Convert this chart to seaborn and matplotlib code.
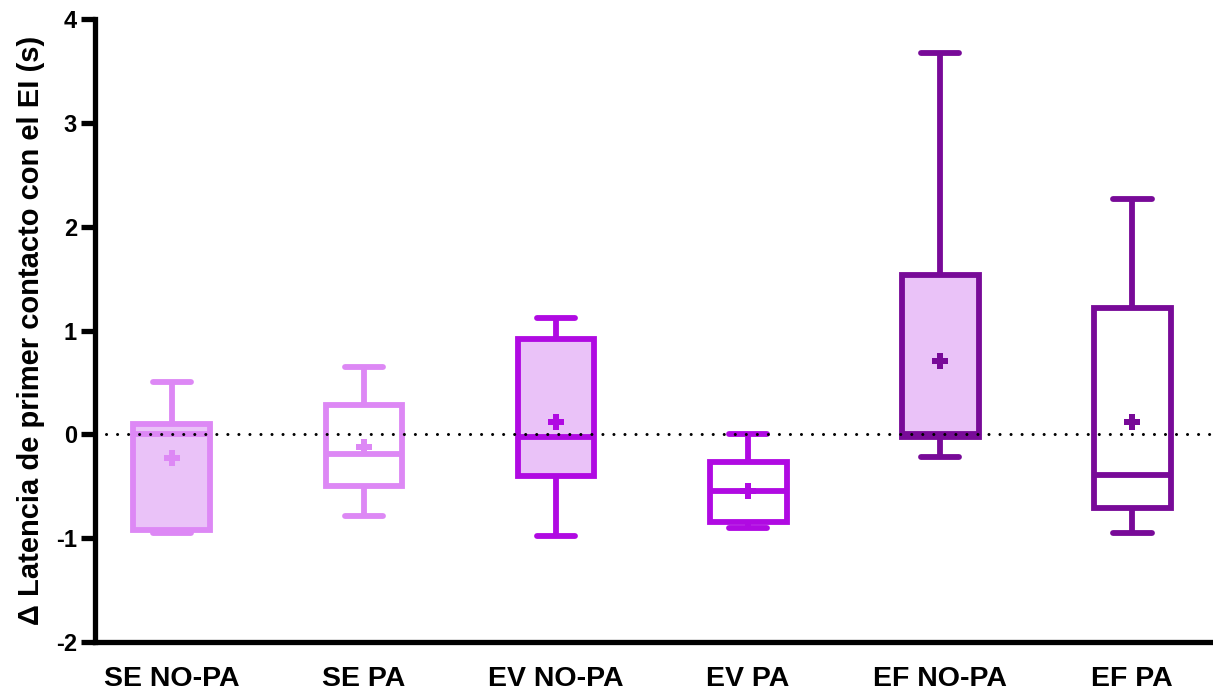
import numpy as np
import pandas as pd
import matplotlib
matplotlib.use("Agg")
import matplotlib.pyplot as plt
import seaborn as sns

# ---- data ----
categories = ["SE NO-PA", "SE PA", "EV NO-PA", "EV PA", "EF NO-PA", "EF PA"]
mins = [-0.95, -0.79, -0.98, -0.90, -0.22, -0.95]
q1s = [-0.92, -0.50, -0.40, -0.84, -0.03, -0.71]
medians = [0.00, -0.19, -0.03, -0.55, 0.00, -0.39]
q3s = [0.10, 0.28, 0.92, -0.27, 1.53, 1.22]
maxs = [0.50, 0.65, 1.12, 0.00, 3.67, 2.27]
means = [-0.23, -0.12, 0.12, -0.55, 0.71, 0.12]
y_ticks = [-2, -1, 0, 1, 2, 3, 4]
y_label = "Δ Latencia de primer contacto con el EI (s)"
reference_value = 0

# ---- styles ----
edge_colors = ["#DD88F5", "#DD88F5", "#B00AE2", "#B00AE2", "#780A98", "#780A98"]
fill_colors = ["#EAC2F8", "#FFFFFF", "#EAC2F8", "#FFFFFF", "#EAC2F8", "#FFFFFF"]

sns.set_style("ticks")
plt.rcParams["font.family"] = ["Liberation Sans", "DejaVu Sans"]
plt.rcParams["font.weight"] = "bold"
for k in ("text.color", "axes.labelcolor", "xtick.color", "ytick.color", "axes.edgecolor"):
    plt.rcParams[k] = "black"

# long-form table: five summary values per group reproduce the box exactly
rows = []
for c, a, b, m, d, e in zip(categories, mins, q1s, medians, q3s, maxs):
    for v in (a, b, m, d, e):
        rows.append({"group": c, "value": v})
df = pd.DataFrame(rows)

fig = plt.figure(figsize=(12.13, 6.96), dpi=100)
ax = fig.add_axes([95 / 1213, 1 - 642 / 696, 1 - 95 / 1213, (642 - 19) / 696])

lw = 4.2
for c, ec, fc in zip(categories, edge_colors, fill_colors):
    sns.boxplot(data=df[df["group"] == c], x="group", y="value", order=categories,
                color=fc, linecolor=ec, width=0.4, whis=(0, 100), linewidth=lw,
                saturation=1, ax=ax, fliersize=0)

ax.axhline(reference_value, color="black", lw=2.2, linestyle=(0, (0.01, 3.6)),
           dash_capstyle="round", zorder=10)

mean_df = pd.DataFrame({"group": categories, "mean": means})
sns.pointplot(data=mean_df, x="group", y="mean", hue="group", order=categories,
              hue_order=categories, palette=edge_colors, markers="P",
              linestyle="none", errorbar=None, markersize=11.5,
              markeredgewidth=0, legend=False, ax=ax, zorder=12)

ax.set_ylim(-2, 4)
ax.set_xlim(-0.4, 5.42)
ax.set_yticks(y_ticks)
ax.set_yticklabels([str(t) for t in y_ticks], fontsize=17, fontweight="bold")
ax.set_xticks(range(len(categories)))
ax.set_xticklabels(categories, fontsize=20.5, fontweight="bold")
ax.tick_params(axis="y", length=10, width=3.8, pad=3, colors="black")
ax.tick_params(axis="x", length=0, pad=17, colors="black")
ax.set_xlabel("")
ax.set_ylabel(y_label, fontsize=21, fontweight="bold", labelpad=8, color="black")
for s in ("top", "right"):
    ax.spines[s].set_visible(False)
for s in ("left", "bottom"):
    ax.spines[s].set_linewidth(3.8)
    ax.spines[s].set_color("black")
ax.spines["bottom"].set_capstyle("projecting")

fig.savefig("out.png", dpi=100)
